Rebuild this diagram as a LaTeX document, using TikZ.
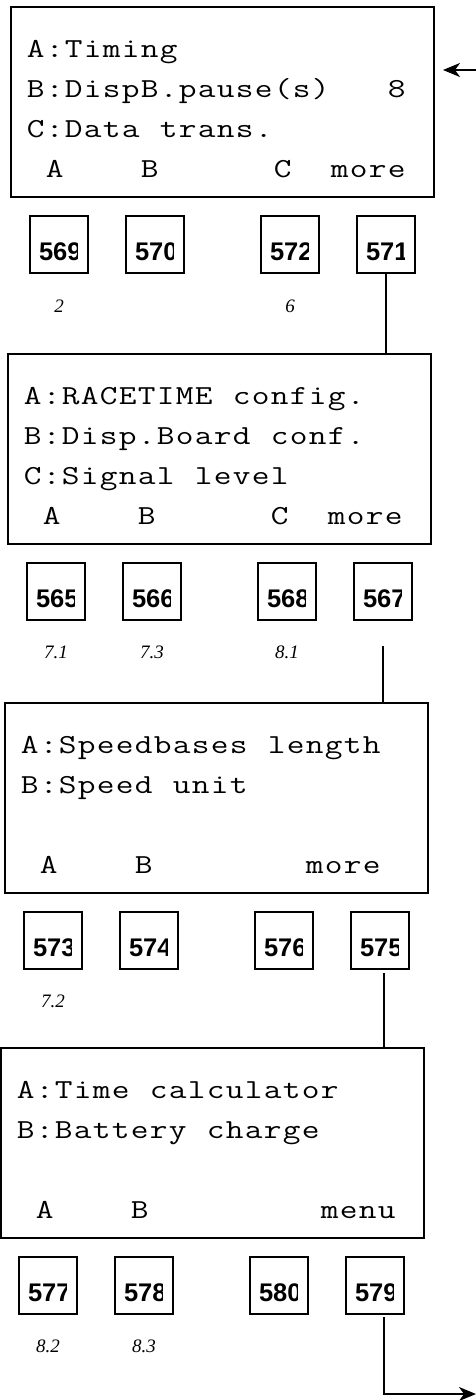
\documentclass[tikz,border=0pt]{standalone}
\usepackage{fontspec}
\usepackage{graphicx}
\newfontfamily\keyfont{Liberation Sans}
\newfontfamily\reffont{Liberation Serif}
\usetikzlibrary{arrows.meta,positioning,calc}

\makeatletter
% one character per LCD cell
\newcommand\lcd[1]{\@tfor\lcdch:=#1\do{\makebox[19pt]{\scalebox{1.25}[1]{\lcdch}}}}
\makeatother

\begin{document}
\begin{tikzpicture}[
  x=1pt, y=-1pt,
  screen/.style={draw, line width=1.6pt, minimum width=423pt, minimum height=190pt, inner sep=0pt, outer sep=0pt, anchor=north west},
  row/.style={anchor=base west, inner sep=0pt, font=\fontsize{27.5}{27.5}\ttfamily},
  softkey/.style={draw, line width=1.3pt, minimum width=58pt, minimum height=57pt, inner sep=0pt, outer sep=0pt,
    path picture={
      \clip ($(path picture bounding box.north west)+(8,0)$) rectangle ($(path picture bounding box.south east)+(-11,0)$);
      \node[anchor=base west, draw=none, minimum width=0pt, minimum height=0pt, inner sep=0pt,
            font=\keyfont\bfseries\fontsize{25.5}{25.5}\selectfont] (n#1)
        at ($(path picture bounding box.north west)+(9,44)$) {#1};
    }},
  secref/.style={anchor=base, inner sep=0pt, font=\reffont\itshape\fontsize{19}{19}\selectfont},
  link/.style={line width=1.5pt},
  arr/.style={-{Stealth[length=17pt, width=14pt, inset=5pt]}, line width=1.5pt},
]
\useasboundingbox (0,0) rectangle (476,1400);

% ================= screen 1 =================
\node[screen] (scr1) at (11,7) {};
\node[row] (s1a) at ($(scr1.north west)+(15,50)$) {\lcd{A:Timing}};
\node[row] (s1b) at ($(scr1.north west)+(15,90)$) {\lcd{B:DispB.pause(s)~~~8}};
\node[row] (s1c) at ($(scr1.north west)+(15,130)$) {\lcd{C:Data~trans.}};
\node[row] (s1d) at ($(scr1.north west)+(15,170)$) {\lcd{~A~~~~B~~~~~~C~~more}};

\node[softkey=569, below right=19pt and 19pt of scr1.south west] (k569) {};
\node[softkey=570, right=38pt of k569] (k570) {};
\node[softkey=572, right=77pt of k570] (k572) {};
\node[softkey=571, right=38pt of k572] (k571) {};
\node[secref] (r569) at ($(k569.south)+(0,39)$) {2};
\node[secref] (r572) at ($(k572.south)+(0,39)$) {6};

% ================= screen 2 =================
\node[screen] (scr2) at (8,354) {};
\node[row] (s2a) at ($(scr2.north west)+(15,50)$) {\lcd{A:RACETIME~config.}};
\node[row] (s2b) at ($(scr2.north west)+(15,90)$) {\lcd{B:Disp.Board~conf.}};
\node[row] (s2c) at ($(scr2.north west)+(15,130)$) {\lcd{C:Signal~level}};
\node[row] (s2d) at ($(scr2.north west)+(15,170)$) {\lcd{~A~~~~B~~~~~~C~~more}};

\node[softkey=565, below right=19pt and 19pt of scr2.south west] (k565) {};
\node[softkey=566, right=38pt of k565] (k566) {};
\node[softkey=568, right=77pt of k566] (k568) {};
\node[softkey=567, right=38pt of k568] (k567) {};
\node[secref] (r565) at ($(k565.south)+(0,38)$) {7.1};
\node[secref] (r566) at ($(k566.south)+(0,38)$) {7.3};
\node[secref] (r568) at ($(k568.south)+(0,38)$) {8.1};

% ================= screen 3 =================
\node[screen] (scr3) at (5,703) {};
\node[row] (s3a) at ($(scr3.north west)+(15,50)$) {\lcd{A:Speedbases~length}};
\node[row] (s3b) at ($(scr3.north west)+(15,90)$) {\lcd{B:Speed~unit}};
\node[row] (s3d) at ($(scr3.north west)+(15,170)$) {\lcd{~A~~~~B~~~~~~~~more}};

\node[softkey=573, below right=19pt and 19pt of scr3.south west] (k573) {};
\node[softkey=574, right=38pt of k573] (k574) {};
\node[softkey=576, right=77pt of k574] (k576) {};
\node[softkey=575, right=38pt of k576] (k575) {};
\node[secref] (r573) at ($(k573.south)+(0,38)$) {7.2};

% ================= screen 4 =================
\node[screen] (scr4) at (1,1048) {};
\node[row] (s4a) at ($(scr4.north west)+(15,50)$) {\lcd{A:Time~calculator}};
\node[row] (s4b) at ($(scr4.north west)+(15,90)$) {\lcd{B:Battery~charge}};
\node[row] (s4d) at ($(scr4.north west)+(15,170)$) {\lcd{~A~~~~B~~~~~~~~~menu}};

\node[softkey=577, below right=19pt and 18pt of scr4.south west] (k577) {};
\node[softkey=578, right=38pt of k577] (k578) {};
\node[softkey=580, right=77pt of k578] (k580) {};
\node[softkey=579, right=38pt of k580] (k579) {};
\node[secref] (r577) at ($(k577.south)+(0,38)$) {8.2};
\node[secref] (r578) at ($(k578.south)+(0,38)$) {8.3};

% ================= links =================
\coordinate (entry) at (476,70);
\draw[arr] (entry) -- ($(scr1.east |- entry)+(9,0)$);

\draw[link] (k571.south) -- (k571.south |- scr2.north);
\coordinate (c567) at ($(k567.south)+(0,26)$);
\draw[link] (c567) -- (c567 |- scr3.north);
\draw[link] ($(k575.south)+(4,4)$) -- ($(k575.south |- scr4.north)+(4,0)$);

% back to main menu
\coordinate (exit) at (476,1394);
\draw[arr] ($(k579.south)+(9,3)$) |- (exit);

\end{tikzpicture}
\end{document}
